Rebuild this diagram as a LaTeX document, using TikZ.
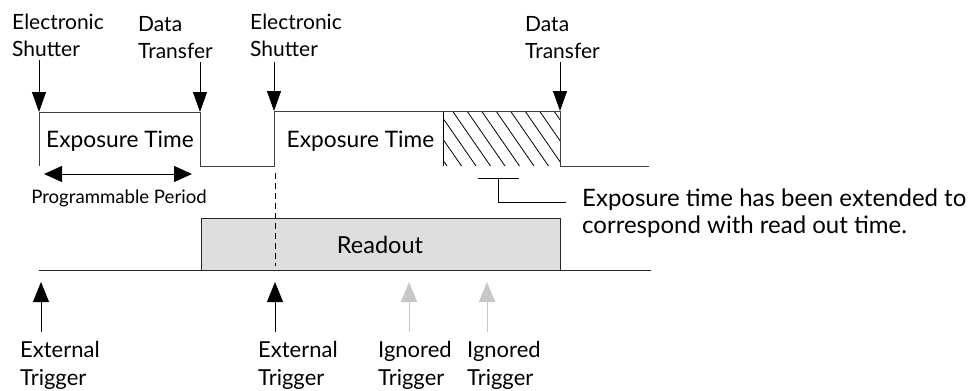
\documentclass[tikz,border=0pt]{standalone}
\usepackage{fontspec}
\setmainfont{Lato}
\usetikzlibrary{arrows.meta}
\begin{document}
\begin{tikzpicture}[x=1pt,y=-1pt,
  sig/.style={line width=0.9pt,draw=black!75},
  toplbl/.style={inner sep=0pt,anchor=west,align=left,font=\fontsize{21}{27}\selectfont},
  botlbl/.style={inner sep=0pt,anchor=west,align=left,font=\fontsize{22}{28}\selectfont},
  big/.style={inner sep=0pt,anchor=base,font=\fontsize{22.7}{27}\selectfont},
  tarrow/.style={line width=0.9pt,-{Triangle[width=14pt,length=20pt]}},
  barrow/.style={line width=0.9pt,-{Triangle[width=16pt,length=20pt]}},
  garrow/.style={barrow,draw=black!22,fill=black!22}
]
\useasboundingbox (0,0) rectangle (978,391);
% readout box
\node[draw=black!85,line width=0.9pt,fill=black!13,minimum width=359pt,minimum height=52pt,anchor=north west,inner sep=0pt] (ro) at (201,218) {};
\node[big,font=\fontsize{23.5}{27}\selectfont] (rotext) at (380,253) {Readout};
\draw[sig,draw=black!85] (39,270) coordinate (b0) -- (651,270) coordinate (b1);
% hatched region
\begin{scope}
\clip (443,111) rectangle (560,166);
\foreach \i in {380,394.5,...,580} \draw[line width=0.8pt] (\i,111) -- (\i+38,166);
\end{scope}
\draw[line width=0.8pt] (443,166) -- (443,111);
% top signal
\draw[sig] (39,166) coordinate (s0) -- (39,112) coordinate (es1) -- (200,112) coordinate (dt1) -- (200,166) -- (274,166) -- (274,111) coordinate (es2) -- (560,111) coordinate (dt2) -- (560,166) -- (649,166) coordinate (s1);
\draw[line width=0.8pt,dash pattern=on 6pt off 4pt] (275,173) coordinate (d0) -- (275,266) coordinate (d1);
% exposure texts
\node[big] (ex1) at (120,147) {Exposure Time};
\node[big] (ex2) at (360.5,147) {Exposure Time};
% programmable period
\coordinate (pp0) at (44,174);
\coordinate (pp1) at (192,174);
\draw[line width=0.9pt,{Triangle[width=16pt,length=18pt]}-{Triangle[width=16pt,length=18pt]}] (pp0) -- (pp1);
\node[inner sep=0pt,anchor=base,font=\fontsize{18.6}{22}\selectfont] (pp) at (119,203) {Programmable Period};
% top labels
\node[toplbl] (l1) at (12,35.5) {Electronic\\Shutter};
\node[toplbl] (l2) at (138,37.5) {Data\\Transfer};
\node[toplbl] (l3) at (250,35.5) {Electronic\\Shutter};
\node[toplbl] (l4) at (525,37.5) {Data\\Transfer};
\coordinate (a1) at (39,60);
\coordinate (a2) at (200,62);
\coordinate (a3) at (274,62);
\coordinate (a4) at (560,62);
\draw[tarrow] (a1) -- (es1);
\draw[tarrow] (a2) -- (dt1);
\draw[tarrow] (a3) -- (es2);
\draw[tarrow] (a4) -- (dt2);
% bracket
\draw[line width=0.8pt] (478,178) coordinate (br0) -- (519,178) coordinate (br1);
\draw[line width=0.8pt] (498,178) -- (498,202) -- (566,202) coordinate (br2);
\node[inner sep=0pt,anchor=west,align=left,font=\fontsize{24}{27}\selectfont] (note) at (582,213) {Exposure time has been extended to\\correspond with read out time.};
% bottom triggers
\node[botlbl] (t1) at (20,365) {External\\Trigger};
\node[botlbl] (t2) at (258,365) {External\\Trigger};
\node[botlbl] (t3) at (378,365) {Ignored\\Trigger};
\node[botlbl] (t4) at (467,365) {Ignored\\Trigger};
\coordinate (u1) at (41,332);
\coordinate (u2) at (275,332);
\coordinate (u3) at (409,332);
\coordinate (u4) at (487,332);
\draw[barrow] (u1) -- (41,282);
\draw[barrow] (u2) -- (275,282);
\draw[garrow] (u3) -- (409,282);
\draw[garrow] (u4) -- (487,282);
\end{tikzpicture}
\end{document}
